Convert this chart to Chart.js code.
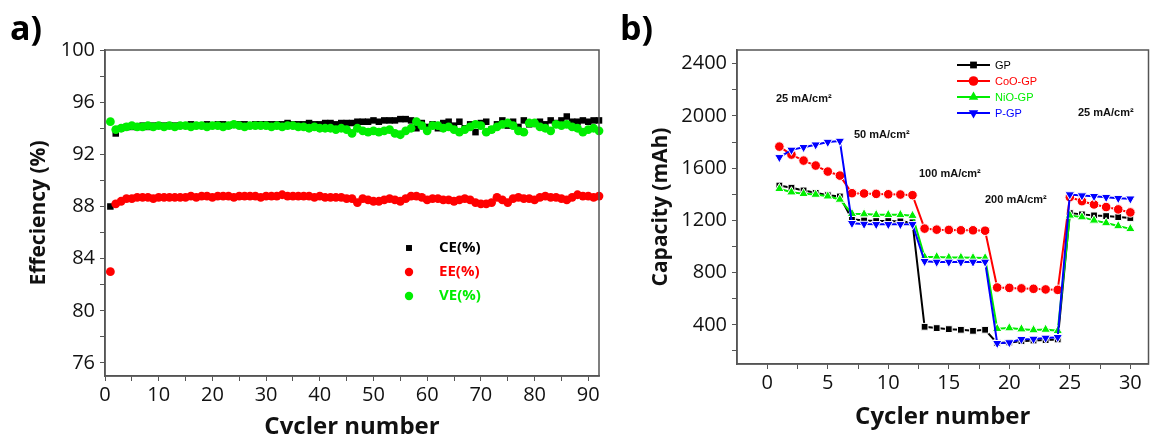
<!DOCTYPE html>
<html>
<head>
<meta charset="utf-8">
<script src="https://cdn.jsdelivr.net/npm/chart.js@4/dist/chart.umd.min.js"></script>
<style>
  html, body { margin: 0; padding: 0; background: #fff; }
  #wrap { position: relative; width: 1155px; height: 439px; overflow: hidden; }
  #chartA { position: absolute; left: 0; top: 0; }
  #chartB { position: absolute; left: 612px; top: 0; }
</style>
</head>
<body>
<div id="wrap">
  <canvas id="chartA" width="612" height="439"></canvas>
  <canvas id="chartB" width="543" height="439"></canvas>
</div>
<script>
// ---- panel a) efficiency data ----
const cyclesA = Array.from({length: 92}, (_, i) => i + 1);

const ceValues = [88.0, 93.6, 94.0, 94.1, 94.1, 94.1, 94.2, 94.1, 94.2, 94.2,
  94.2, 94.2, 94.2, 94.2, 94.2, 94.3, 94.2, 94.2, 94.3, 94.2,
  94.3, 94.3, 94.2, 94.3, 94.3, 94.3, 94.2, 94.3, 94.3, 94.3,
  94.3, 94.3, 94.3, 94.4, 94.3, 94.3, 94.3, 94.4, 94.3, 94.3,
  94.4, 94.4, 94.3, 94.4, 94.4, 94.4, 94.5, 94.5, 94.5, 94.6,
  94.5, 94.6, 94.6, 94.6, 94.7, 94.7, 94.6, 94.0, 94.4, 94.1,
  94.3, 94.0, 94.4, 94.5, 94.2, 94.5, 94.0, 94.3, 93.7, 94.4,
  94.5, 93.9, 94.3, 94.6, 94.2, 94.5, 94.1, 94.6, 94.3, 94.4,
  94.5, 94.3, 94.6, 94.4, 94.6, 94.9, 94.5, 94.5, 94.6, 94.5,
  94.6, 94.6];

const eeValues = [83.0, 88.2, 88.4, 88.6, 88.6, 88.7, 88.7, 88.7, 88.6, 88.7,
  88.7, 88.7, 88.7, 88.7, 88.7, 88.8, 88.7, 88.8, 88.8, 88.7,
  88.8, 88.8, 88.8, 88.7, 88.8, 88.8, 88.8, 88.8, 88.7, 88.8,
  88.8, 88.8, 88.9, 88.8, 88.8, 88.8, 88.8, 88.8, 88.7, 88.8,
  88.7, 88.7, 88.7, 88.7, 88.6, 88.6, 88.3, 88.6, 88.5, 88.4,
  88.4, 88.5, 88.6, 88.5, 88.4, 88.6, 88.8, 88.8, 88.7, 88.5,
  88.6, 88.6, 88.5, 88.5, 88.4, 88.5, 88.6, 88.5, 88.3, 88.2,
  88.2, 88.3, 88.7, 88.5, 88.3, 88.6, 88.7, 88.6, 88.6, 88.5,
  88.7, 88.8, 88.7, 88.7, 88.6, 88.5, 88.7, 88.9, 88.8, 88.8,
  88.7, 88.8];

const veValues = [94.5, 93.9, 94.0, 94.1, 94.2, 94.1, 94.1, 94.2, 94.1, 94.2,
  94.1, 94.2, 94.1, 94.2, 94.2, 94.1, 94.2, 94.2, 94.1, 94.2,
  94.2, 94.1, 94.2, 94.3, 94.2, 94.1, 94.2, 94.2, 94.2, 94.2,
  94.1, 94.2, 94.1, 94.2, 94.2, 94.1, 94.1, 94.0, 94.1, 94.0,
  94.0, 94.0, 93.9, 94.0, 93.9, 93.6, 94.0, 93.8, 93.7, 93.8,
  93.7, 93.8, 93.9, 93.6, 93.5, 93.8, 94.0, 94.5, 94.2, 93.8,
  94.2, 94.2, 94.0, 94.1, 93.9, 93.7, 93.9, 94.1, 94.3, 94.2,
  93.7, 93.9, 94.1, 94.3, 94.4, 94.2, 93.8, 93.7, 94.4, 94.4,
  94.1, 94.0, 93.8, 94.3, 94.2, 94.3, 94.1, 94.0, 93.7, 93.9,
  94.0, 93.8];

const xTicksA = [0, 5, 10, 15, 20, 25, 30, 35, 40, 45, 50, 55, 60, 65, 70, 75, 80, 85, 90];
const yTicksA = [76, 78, 80, 82, 84, 86, 88, 90, 92, 94, 96, 98, 100];

// ---- panel b) capacity data ----
const cyclesB = [1, 2, 3, 4, 5, 6, 7, 8, 9, 10, 11, 12, 13, 14, 15, 16, 17, 18, 19, 20, 21, 22, 23, 24, 25, 26, 27, 28, 29, 30];
const gpValues  = [1467, 1450, 1429, 1411, 1393, 1383, 1208, 1200, 1195, 1195, 1192, 1185, 385, 375, 367, 362, 354, 362, 260, 265, 275, 280, 283, 288, 1256, 1246, 1238, 1233, 1225, 1218];
const cooValues = [1765, 1704, 1658, 1620, 1574, 1543, 1408, 1406, 1403, 1400, 1398, 1393, 1137, 1129, 1127, 1124, 1124, 1121, 686, 683, 679, 676, 671, 668, 1378, 1347, 1322, 1302, 1284, 1261];
const nioValues = [1442, 1416, 1404, 1398, 1385, 1360, 1251, 1248, 1243, 1243, 1243, 1236, 920, 920, 915, 915, 913, 912, 370, 375, 367, 360, 364, 354, 1238, 1225, 1200, 1180, 1157, 1135];
const pgpValues = [1683, 1740, 1760, 1780, 1800, 1808, 1178, 1172, 1170, 1170, 1170, 1170, 887, 882, 882, 882, 882, 882, 259, 265, 290, 292, 300, 305, 1398, 1390, 1385, 1378, 1370, 1366];

const xTicksB = [0, 2.5, 5, 7.5, 10, 12.5, 15, 17.5, 20, 22.5, 25, 27.5, 30];
const yTicksB = [200, 400, 600, 800, 1000, 1200, 1400, 1600, 1800, 2000, 2200, 2400];

const rateLabels = ['25 mA/cm²', '50 mA/cm²', '100 mA/cm²', '200 mA/cm²', '25 mA/cm²'];

function pairs(xs, ys) {
  return xs.map((x, i) => ({x: x, y: ys[i]}));
}

const axisColor = '#555';
const tickFont = {family: 'Open Sans', size: 20};
const titleFont = {family: 'Open Sans', size: 21, weight: 'bold'};

// frame + extra text
const framePlugin = {
  id: 'frame',
  afterDraw(chart, args, opts) {
    const ctx = chart.ctx;
    const a = chart.chartArea;
    ctx.save();
    ctx.strokeStyle = axisColor;
    ctx.lineWidth = 1.5;
    ctx.strokeRect(a.left, a.top, a.right - a.left, a.bottom - a.top);
    ctx.fillStyle = '#000';
    ctx.font = 'bold 34px "Open Sans"';
    ctx.textBaseline = 'alphabetic';
    ctx.fillText(opts.panel, opts.px, 40);
    ctx.restore();
    if (opts.extra) opts.extra(chart);
  }
};

function drawLegendA(chart) {
  const ctx = chart.ctx;
  ctx.save();
  ctx.font = 'bold 15px "Open Sans"';
  ctx.textBaseline = 'middle';
  chart.data.datasets.forEach((ds, i) => {
    const y = 248 + i * 24;
    ctx.fillStyle = ds.backgroundColor;
    ctx.strokeStyle = ds.backgroundColor;
    Chart.helpers.drawPoint(ctx, {pointStyle: ds.pointStyle, radius: 4.2, borderWidth: 0}, 409, y);
    ctx.fillText(ds.label, 439, y);
  });
  ctx.restore();
}

function drawLegendB(chart) {
  const ctx = chart.ctx;
  ctx.save();
  ctx.font = '11px "Liberation Sans"';
  ctx.textBaseline = 'middle';
  chart.data.datasets.forEach((ds, i) => {
    const y = 65 + i * 16;
    ctx.strokeStyle = ds.borderColor;
    ctx.lineWidth = 2;
    ctx.beginPath();
    ctx.moveTo(345, y);
    ctx.lineTo(378, y);
    ctx.stroke();
    ctx.fillStyle = ds.borderColor;
    Chart.helpers.drawPoint(ctx, {pointStyle: ds.pointStyle, radius: ds.pointRadius, rotation: ds.pointRotation || 0, borderWidth: 0}, 361.5, y);
    ctx.fillText(ds.label, 383, y + 0.5);
  });
  // current density notes
  ctx.fillStyle = '#111';
  ctx.font = 'bold 11px "Liberation Sans"';
  const spots = [[164, 99], [242, 135], [307, 174], [373, 200], [466, 113]];
  rateLabels.forEach((t, i) => ctx.fillText(t, spots[i][0], spots[i][1]));
  ctx.restore();
}

function fixedTicks(list) {
  return function (scale) {
    scale.ticks = list.map(v => ({value: v}));
  };
}

new Chart(document.getElementById('chartA'), {
  type: 'scatter',
  data: {
    datasets: [
      {label: 'CE(%)', data: pairs(cyclesA, ceValues), pointStyle: 'rect', pointRadius: 4.6,
        backgroundColor: '#000', borderColor: '#000', borderWidth: 0, order: 3},
      {label: 'EE(%)', data: pairs(cyclesA, eeValues), pointStyle: 'circle', pointRadius: 4.4,
        backgroundColor: '#ff0000', borderColor: '#ff0000', borderWidth: 0, order: 2},
      {label: 'VE(%)', data: pairs(cyclesA, veValues), pointStyle: 'circle', pointRadius: 4.4,
        backgroundColor: '#00ee00', borderColor: '#00ee00', borderWidth: 0, order: 1}
    ]
  },
  options: {
    responsive: false,
    animation: false,
    clip: false,
    layout: {padding: {left: 0, top: 50, right: 13, bottom: 0}},
    plugins: {
      legend: {display: false},
      tooltip: {enabled: false},
      frame: {panel: 'a)', px: 10, extra: drawLegendA}
    },
    scales: {
      x: {
        type: 'linear', min: 0, max: 92,
        afterBuildTicks: fixedTicks(xTicksA),
        afterFit: s => { s.height = 63; },
        grid: {drawOnChartArea: false, tickLength: 5, color: axisColor},
        border: {color: axisColor, width: 1.5},
        ticks: {font: tickFont, color: '#111', padding: 2, maxRotation: 0, autoSkip: false,
          callback: v => (v % 10 === 0 ? v : '')},
        title: {display: true, text: 'Cvcler number', color: '#111',
          font: {family: 'Open Sans', size: 24, weight: 'bold', lineHeight: 1}, padding: 0}
      },
      y: {
        min: 75, max: 100,
        afterBuildTicks: fixedTicks(yTicksA),
        afterFit: s => { s.width = 105; },
        grid: {drawOnChartArea: false, tickLength: 5, color: axisColor},
        border: {color: axisColor, width: 1.5},
        ticks: {font: tickFont, color: '#111', padding: 5, autoSkip: false,
          callback: v => ((v - 76) % 4 === 0 ? v : '')},
        title: {display: true, text: 'Effeciency (%)', color: '#111', font: titleFont,
          padding: {top: 26, bottom: 0}}
      }
    }
  },
  plugins: [framePlugin]
});

function lineSet(label, values, color, style, radius, rotation, order) {
  return {
    label: label, data: pairs(cyclesB, values), showLine: true,
    borderColor: color, backgroundColor: color, borderWidth: 2,
    pointStyle: style, pointRadius: radius, pointRotation: rotation,
    pointBackgroundColor: color, pointBorderColor: '#fff', pointBorderWidth: 1,
    order: order
  };
}

new Chart(document.getElementById('chartB'), {
  type: 'scatter',
  data: {
    datasets: [
      lineSet('GP', gpValues, '#000', 'rect', 4.8, 0, 4),
      lineSet('CoO-GP', cooValues, '#ff0000', 'circle', 4.8, 0, 3),
      lineSet('NiO-GP', nioValues, '#00ee00', 'triangle', 5.5, 0, 2),
      lineSet('P-GP', pgpValues, '#0000ff', 'triangle', 5.5, 180, 1)
    ]
  },
  options: {
    responsive: false,
    animation: false,
    layout: {padding: {left: 0, top: 50, right: 1, bottom: 0}},
    plugins: {
      legend: {display: false},
      tooltip: {enabled: false},
      frame: {panel: 'b)', px: 8, extra: drawLegendB}
    },
    scales: {
      x: {
        type: 'linear', min: -2.5, max: 31.5,
        afterBuildTicks: fixedTicks(xTicksB),
        afterFit: s => { s.height = 75; },
        grid: {drawOnChartArea: false, tickLength: 5, color: axisColor},
        border: {color: axisColor, width: 1.5},
        ticks: {font: tickFont, color: '#111', padding: 2, maxRotation: 0, autoSkip: false,
          callback: v => (v % 5 === 0 ? v : '')},
        title: {display: true, text: 'Cycler number', color: '#111',
          font: {family: 'Open Sans', size: 24, weight: 'bold'}, padding: {top: 0, bottom: 7}}
      },
      y: {
        min: 100, max: 2505,
        afterBuildTicks: fixedTicks(yTicksB),
        afterFit: s => { s.width = 125; },
        grid: {drawOnChartArea: false, tickLength: 5, color: axisColor},
        border: {color: axisColor, width: 1.5},
        ticks: {font: tickFont, color: '#111', padding: 5, autoSkip: false,
          callback: v => (v % 400 === 0 ? v : '')},
        title: {display: true, text: 'Capacity (mAh)', color: '#111', font: titleFont,
          padding: {top: 36, bottom: 0}}
      }
    }
  },
  plugins: [framePlugin]
});
</script>
</body>
</html>
